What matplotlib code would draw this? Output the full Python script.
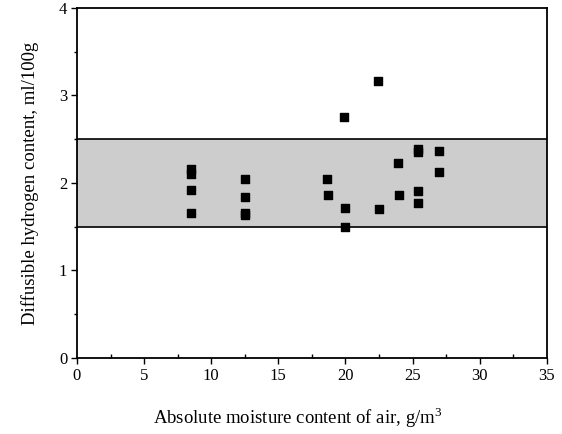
import matplotlib.pyplot as plt
from matplotlib.ticker import MultipleLocator

plt.rcParams['font.family'] = ['Liberation Serif', 'DejaVu Serif']
plt.rcParams['mathtext.fontset'] = 'custom'
plt.rcParams['mathtext.rm'] = 'Liberation Serif'

# absolute moisture content of air (g/m3) vs diffusible hydrogen (ml/100g)
moisture = [8.5, 8.5, 8.5, 8.5,
            12.5, 12.5, 12.5, 12.5,
            18.6, 18.7,
            19.9, 20.0, 20.0,
            22.4, 22.5,
            23.9, 24.0,
            25.4, 25.4, 25.4, 25.4,
            27.0, 27.0]
hydrogen = [2.16, 2.10, 1.92, 1.66,
            2.05, 1.84, 1.66, 1.63,
            2.05, 1.86,
            2.75, 1.71, 1.50,
            3.16, 1.70,
            2.23, 1.86,
            2.39, 2.35, 1.91, 1.77,
            2.36, 2.13]

band_low, band_high = 1.5, 2.5

fig = plt.figure(figsize=(5.62, 4.34), dpi=100)
ax = fig.add_axes([0.137, 0.175, 0.836, 0.807])

ax.axhspan(band_low, band_high, facecolor='#cdcdcd', edgecolor='none', zorder=1)
ax.axhline(band_low, color='black', lw=1.2, zorder=2)
ax.axhline(band_high, color='black', lw=1.2, zorder=2)

ax.scatter(moisture, hydrogen, marker='s', s=36, color='black', zorder=3)

ax.set_xlim(0, 35)
ax.set_ylim(0, 4)
ax.xaxis.set_major_locator(MultipleLocator(5))
ax.xaxis.set_minor_locator(MultipleLocator(2.5))
ax.yaxis.set_major_locator(MultipleLocator(1))
ax.yaxis.set_minor_locator(MultipleLocator(0.5))
ax.tick_params(axis='x', which='major', direction='out', length=4, width=1, labelsize=12, pad=3)
ax.tick_params(axis='x', which='minor', direction='in', length=3, width=1)
ax.tick_params(axis='y', which='major', direction='out', length=4, width=1, labelsize=12, pad=3)
ax.tick_params(axis='y', which='minor', direction='out', length=2, width=1)
for sp in ax.spines.values():
    sp.set_linewidth(1.3)

ax.set_xlabel('Absolute moisture content of air, g/m$^{\\mathrm{3}}$', fontsize=13.5)
ax.xaxis.set_label_coords(0.47, -0.135)
ax.set_ylabel('Diffusible hydrogen content, ml/100g', fontsize=13.5, labelpad=14)

fig.savefig('out.png', dpi=100)
